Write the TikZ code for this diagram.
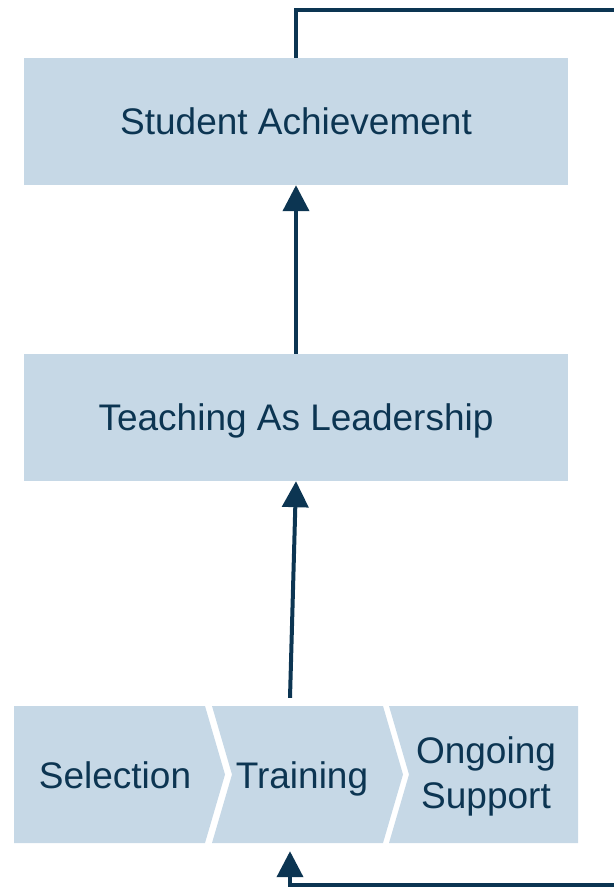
\documentclass[tikz,border=0pt]{standalone}
\usepackage{fontspec}
\setmainfont{Liberation Sans}
\usetikzlibrary{arrows.meta}
\definecolor{boxfill}{HTML}{C6D8E6}
\definecolor{ink}{HTML}{0C3552}
\tikzset{
  oneline/.style={text height=26.6pt, text depth=0pt},
  blockbox/.style={fill=boxfill, draw=none, minimum width=544pt, minimum height=127pt,
    inner sep=0pt, text=ink, font=\fontsize{37}{45}\selectfont, oneline},
  stagefill/.style={fill=boxfill, draw=none},
  stagetext/.style={text=ink, font=\fontsize{37}{45}\selectfont, align=center, inner sep=0pt},
  link/.style={draw=ink, line width=4pt},
  linkarrow/.style={link, -{Triangle[width=26pt,length=26pt]}},
  anchorbox/.style={draw=none, minimum width=2pt, minimum height=153pt, inner sep=0pt}
}
\begin{document}
\begin{tikzpicture}[x=1pt,y=-1pt]
  \useasboundingbox (0,0) rectangle (614,893);

  % outcome blocks
  \node[blockbox] (sa)  at (296,121.5) {Student Achievement};
  \node[blockbox] (tal) at (296,417.5) {Teaching As Leadership};

  % process chevrons
  \fill[stagefill] (14,706) -- (205,706) -- (225,774.5) -- (205,843) -- (14,843) -- cycle;
  \fill[stagefill] (212,706) -- (383,706) -- (403,774.5) -- (383,843) -- (212,843) -- (232,774.5) -- cycle;
  \fill[stagefill] (389,706) -- (578,706) -- (578,843) -- (389,843) -- (409,774.5) -- cycle;
  \node[stagetext, oneline] (sel) at (115,775) {Selection};
  \node[stagetext, oneline] (trn) at (302,775) {Training};
  \node[stagetext] (ong) at (486,776) {Ongoing\\Support};

  % attachment span for the connectors of the training stage
  \node[anchorbox] (trainlink) at (290,774.5) {};

  % feedback loop ends at the picture edge
  \coordinate (loopout) at (614,10);
  \coordinate (loopin)  at (614,885);

  % connectors
  \draw[linkarrow] (trainlink.north) -- (tal.south);
  \draw[linkarrow] (tal.north) -- (sa.south);
  \draw[link] (sa.north) |- (loopout);
  \draw[linkarrow] (loopin) -| (trainlink.south);
\end{tikzpicture}
\end{document}
